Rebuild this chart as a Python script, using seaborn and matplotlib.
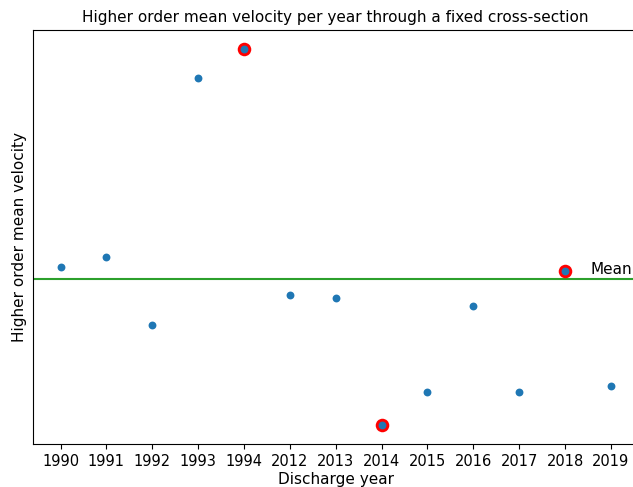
import pandas as pd
import matplotlib
matplotlib.use('Agg')
import matplotlib.pyplot as plt
import seaborn as sns

# Dữ liệu
years = ['1990', '1991', '1992', '1993', '1994', '2012', '2013',
         '2014', '2015', '2016', '2017', '2018', '2019']
velocity = [1.82, 1.92, 1.24, 3.71, 4.00, 1.54, 1.51,
            0.24, 0.57, 1.43, 0.57, 1.78, 0.63]
mean_velocity = 1.70
highlight_years = ['1994', '2014', '2018']

df = pd.DataFrame({'year': years, 'velocity': velocity})
hl = df[df['year'].isin(highlight_years)]

fig = plt.figure(figsize=(6.33, 4.87), dpi=100)
ax = fig.add_axes([33 / 633, 43 / 487, 605.5 / 633, 414 / 487])

# Vẽ tất cả điểm trước để giữ đúng thứ tự năm
sns.scatterplot(data=df, x='year', y='velocity', ax=ax, color='tab:blue',
                s=32, linewidth=0, zorder=3)
# Vòng đỏ cho các điểm đặc biệt (nằm dưới chấm xanh)
sns.scatterplot(data=hl, x='year', y='velocity', ax=ax, color='red',
                s=95, linewidth=0, zorder=2)

ax.axhline(mean_velocity, color='tab:green', linewidth=1.5, zorder=1)
ax.text(11.55, mean_velocity + 0.02, 'Mean', fontsize=11, va='bottom', ha='left')

ax.set_xlim(-0.6, len(years) - 0.4)
ax.margins(y=0.05)
ax.set_yticks([])
ax.tick_params(axis='x', labelsize=10.5)
ax.set_title('Higher order mean velocity per year through a fixed cross-section',
             fontsize=11)
ax.set_xlabel('Discharge year', fontsize=11, labelpad=2.5)
ax.set_ylabel('Higher order mean velocity', fontsize=11)

plt.savefig('out.png', dpi=100)
plt.close()
